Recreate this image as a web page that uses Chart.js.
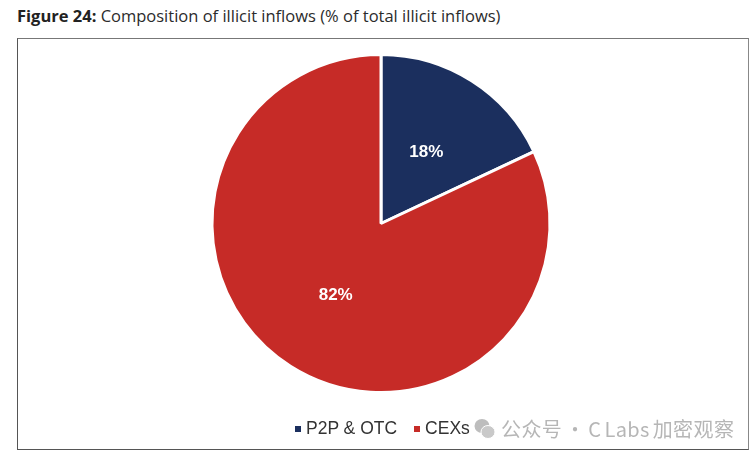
<!DOCTYPE html>
<html>
<head>
<meta charset="utf-8">
<script src="https://cdn.jsdelivr.net/npm/chart.js@4"></script>
<style>
    html, body { margin: 0; background: #fff; }
    #page { position: relative; width: 756px; height: 459px; overflow: hidden; }
    #heading { position: absolute; left: 17px; top: 4px; font: 16.5px "Open Sans", sans-serif; color: #2b2b2b; white-space: nowrap; }
    #heading b { color: #222; }
    #frame { position: absolute; left: 17px; top: 38px; width: 730px; height: 410px; border: 1px solid #555; border-top-color: #777; border-right-color: #888; }
    #legend { position: absolute; left: 295px; top: 418px; display: flex; align-items: center; color: #333; font: 17.5px "Liberation Sans", sans-serif; white-space: nowrap; }
    #legend i { display: inline-block; width: 6px; height: 6px; margin-right: 5px; }
    #legend span { display: inline-flex; align-items: center; margin-right: 17px; }
    #mark { position: absolute; left: 474px; top: 414px; display: flex; align-items: center; color: #b6b6b6; font: 20px "Noto Sans CJK SC", sans-serif; letter-spacing: 0.4px; word-spacing: -2px; white-space: nowrap; }
    #mark svg { margin-right: 6px; }
</style>
</head>
<body>
<div id="page">
    <div id="heading"><b>Figure 24:</b> Composition of illicit inflows (% of total illicit inflows)</div>
    <div id="frame"><canvas id="inflows-chart" width="726" height="410"></canvas></div>
    <div id="legend"></div>
    <div id="mark">
        <svg width="21" height="24" viewBox="0 0 21 24">
            <ellipse cx="8" cy="9" rx="7.5" ry="7" fill="#bdbdbd"/>
            <ellipse cx="14" cy="15" rx="7" ry="6.5" fill="#c9c9c9" stroke="#fff"/>
        </svg>
        <span>公众号 · C Labs 加密观察</span>
    </div>
</div>
<script>
const categories = ['P2P & OTC', 'CEXs'];
const shares = [18, 82];
const sliceColors = ['#1b2f5e', '#c62b27'];

// Writes the percentage in the middle of each slice
const sliceLabels = {
    id: 'sliceLabels',
    afterDatasetsDraw(chart) {
        const { ctx } = chart;
        ctx.save();
        ctx.fillStyle = '#fff';
        ctx.font = 'bold 17px "Liberation Sans", sans-serif';
        ctx.textAlign = 'center';
        ctx.textBaseline = 'middle';
        chart.getDatasetMeta(0).data.forEach((arc, i) => {
            const p = arc.getCenterPoint();
            ctx.fillText(shares[i] + '%', p.x, p.y);
        });
        ctx.restore();
    }
};

const chart = new Chart(document.getElementById('inflows-chart'), {
    type: 'pie',
    data: {
        labels: categories,
        datasets: [{
            data: shares,
            backgroundColor: sliceColors,
            borderColor: '#fff',
            borderWidth: 3
        }]
    },
    options: {
        responsive: false,
        animation: false,
        radius: 169,
        layout: { padding: { bottom: 41 } },
        plugins: {
            tooltip: { enabled: false },
            legend: { display: false }
        }
    },
    plugins: [sliceLabels]
});

// Legend sits tight under the pie, so it is built as markup from the chart's labels
const legendBox = document.getElementById('legend');
chart.data.labels.forEach((label, i) => {
    const item = document.createElement('span');
    const swatch = document.createElement('i');
    swatch.style.background = sliceColors[i];
    item.append(swatch, label);
    legendBox.append(item);
});
</script>
</body>
</html>
